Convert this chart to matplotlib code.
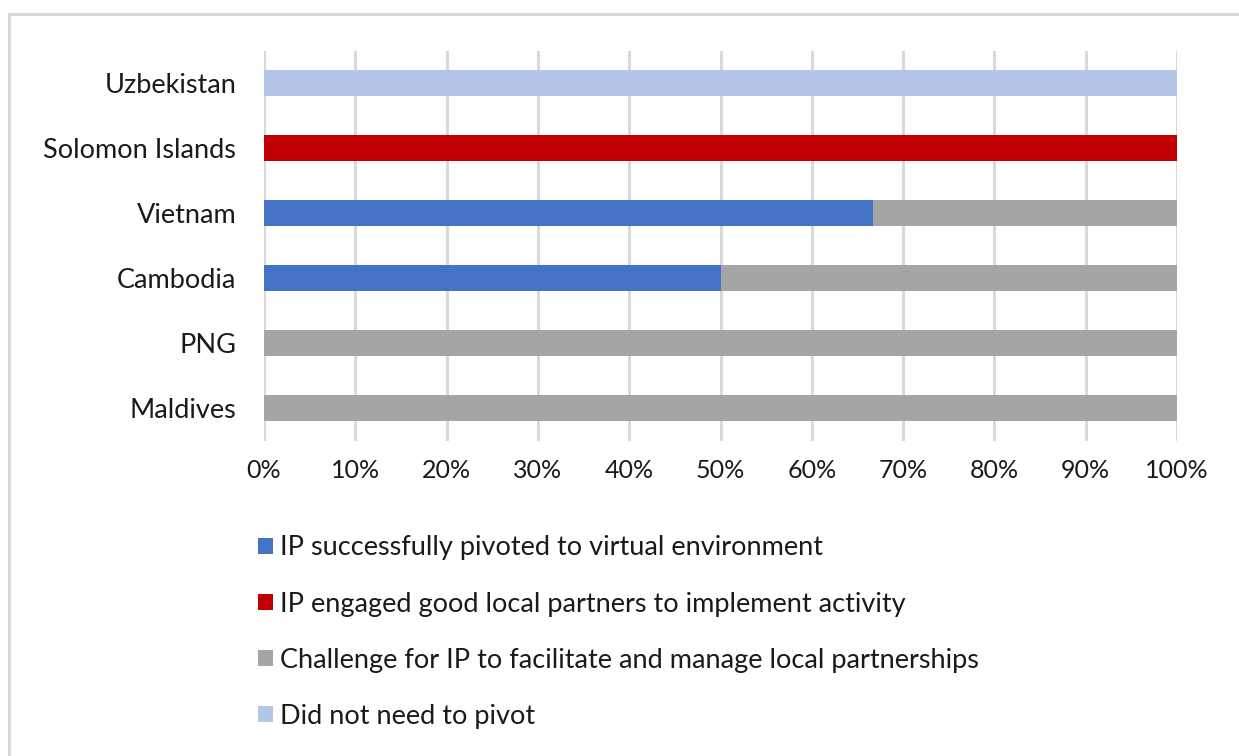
import matplotlib
matplotlib.use("Agg")
import matplotlib.pyplot as plt
from matplotlib.patches import Patch, Rectangle
from matplotlib.ticker import FuncFormatter, MultipleLocator

plt.rcParams['font.family'] = ['Lato', 'DejaVu Sans']

countries = ["Maldives", "PNG", "Cambodia", "Vietnam", "Solomon Islands", "Uzbekistan"]
pivoted = [0, 0, 50, 66.7, 0, 0]
local_partners = [0, 0, 0, 0, 100, 0]
challenge = [100, 100, 50, 33.3, 0, 0]
no_pivot = [0, 0, 0, 0, 0, 100]

series = [
    ("IP successfully pivoted to virtual environment", pivoted, "#4472C4"),
    ("IP engaged good local partners to implement activity", local_partners, "#C00000"),
    ("Challenge for IP to facilitate and manage local partnerships", challenge, "#A5A5A5"),
    ("Did not need to pivot", no_pivot, "#B4C6E7"),
]

W, H = 1239, 756
fig = plt.figure(figsize=(W / 100, H / 100), dpi=100)

# outer chart-area frame
fig.patches.append(Rectangle((9 / W, -0.1), 1.2, 1 - 14 / H + 0.1, transform=fig.transFigure,
                             fill=False, edgecolor="#d9d9d9", linewidth=2.2, zorder=0))

ax = fig.add_axes([264 / W, 1 - 440.5 / H, (1177 - 264) / W, (440.5 - 50.5) / H])

ypos = range(len(countries))
left = [0] * len(countries)
handles = []
for label, vals, color in series:
    ax.barh(ypos, vals, left=left, height=0.4, color=color, zorder=3)
    left = [a + b for a, b in zip(left, vals)]
    handles.append(Patch(facecolor=color, label=label))

ax.set_xlim(0, 100)
ax.set_ylim(-0.5, len(countries) - 0.5)
ax.set_yticks(list(ypos))
ax.set_yticklabels(countries, fontsize=19.5, color="#1a1a1a")
ax.xaxis.set_major_locator(MultipleLocator(10))
ax.xaxis.set_major_formatter(FuncFormatter(lambda v, p: f"{v:.0f}%"))
ax.tick_params(axis="x", labelsize=18, colors="#1a1a1a", length=0, pad=13)
ax.tick_params(axis="y", length=0, pad=20)
ax.grid(axis="x", color="#d9d9d9", linewidth=2.2, zorder=0)
for s in ax.spines.values():
    s.set_visible(False)

fig.legend(handles=handles, loc="upper left", bbox_to_anchor=(234 / W, 1 - 511 / H),
           frameon=False, fontsize=19.5, handlelength=0.55, handleheight=0.55,
           handletextpad=0.25, labelspacing=1.15, labelcolor="#1a1a1a")

fig.savefig("out.png", dpi=100, facecolor="white")
